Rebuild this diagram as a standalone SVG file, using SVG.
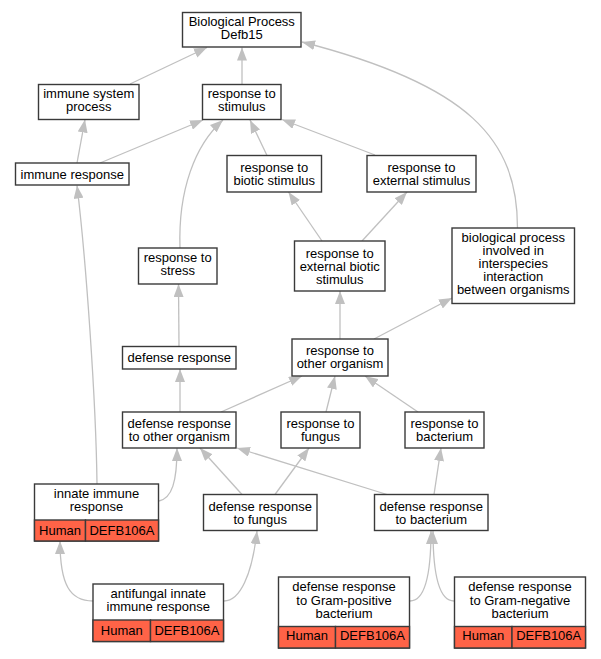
<svg xmlns="http://www.w3.org/2000/svg" width="601" height="659" viewBox="0 0 601 659">
<defs>
<marker id="ah" viewBox="0 0 13 10" refX="13" refY="5" markerWidth="13" markerHeight="10" markerUnits="userSpaceOnUse" orient="auto">
<path d="M0,0 L13,5 L0,10 z" fill="#c0c0c0"/>
</marker>
</defs>
<style>
.n rect{fill:#ffffff;stroke:#3a3a3a;stroke-width:1.4}
.n rect.c{fill:#ff6347}
.n line{stroke:#3a3a3a;stroke-width:1.4}
text{font-family:"Liberation Sans",Arial,sans-serif;font-size:13px;fill:#000;text-anchor:middle}
#edges path{fill:none;stroke:#c0c0c0;stroke-width:1.3;marker-end:url(#ah)}
</style>
<rect width="601" height="659" fill="#ffffff"/>
<g id="edges">
<path d="M130,84 L207,47.5"/>
<path d="M242,84 L242,47.5"/>
<path d="M517.5,228 C517.5,140 470,85 302,42"/>
<path d="M77,163 L85,119.5"/>
<path d="M100,163 L203,120"/>
<path d="M180,248 C178,190 195,145 223,120"/>
<path d="M267,155.5 L250,120"/>
<path d="M375,155 L282,119.5"/>
<path d="M322,241 L288.5,192"/>
<path d="M362,241 L407,192"/>
<path d="M340,339 L340,291"/>
<path d="M374,339 L452,298"/>
<path d="M179,346.5 L178.5,284"/>
<path d="M180,412 L180,369"/>
<path d="M221,412 L302,376"/>
<path d="M326,412 L335,376"/>
<path d="M418,412 L365,376"/>
<path d="M242,494.5 L200,448"/>
<path d="M275,494.5 L309,448"/>
<path d="M387,494.5 L237,448"/>
<path d="M434,494.5 L441,448"/>
<path d="M97,484 C96,400 86,260 77,185.5"/>
<path d="M159,501 C172,498 177,482 177,448"/>
<path d="M93,601 C70,601 60,585 60,541"/>
<path d="M224,601 C240,601 252,575 257,531"/>
<path d="M410,601 C426,601 431,570 431,531"/>
<path d="M454,601 C438,601 433,570 433,531"/>
</g>
<g id="bp" class="n"><rect x="182.5" y="12.5" width="118.5" height="34.5"/><text x="241.75" y="26">Biological Process</text><text x="241.75" y="39">Defb15</text></g>
<g id="isp" class="n"><rect x="38.5" y="84.5" width="100.5" height="35"/><text x="88.75" y="98">immune system</text><text x="88.75" y="111">process</text></g>
<g id="rts" class="n"><rect x="202.5" y="84.5" width="78.5" height="35"/><text x="241.75" y="98">response to</text><text x="241.75" y="111">stimulus</text></g>
<g id="ir" class="n"><rect x="15.5" y="163" width="113.5" height="22"/><text x="72.25" y="178.5">immune response</text></g>
<g id="rbs" class="n"><rect x="227" y="155.5" width="94.5" height="36.5"/><text x="274.25" y="171.5">response to</text><text x="274.25" y="184.5">biotic stimulus</text></g>
<g id="res" class="n"><rect x="367" y="155.5" width="109" height="36.5"/><text x="421.5" y="171.5">response to</text><text x="421.5" y="184.5">external stimulus</text></g>
<g id="rebs" class="n"><rect x="294.5" y="241" width="90.5" height="50"/><text x="339.75" y="257.5">response to</text><text x="339.75" y="270.5">external biotic</text><text x="339.75" y="283.5">stimulus</text></g>
<g id="bpi" class="n"><rect x="452" y="228" width="122.5" height="75.5"/><text x="513.25" y="242">biological process</text><text x="513.25" y="255">involved in</text><text x="513.25" y="268">interspecies</text><text x="513.25" y="281">interaction</text><text x="513.25" y="294">between organisms</text></g>
<g id="rstress" class="n"><rect x="138.5" y="248" width="78.5" height="36"/><text x="177.75" y="262">response to</text><text x="177.75" y="275">stress</text></g>
<g id="dr" class="n"><rect x="122.5" y="346.5" width="113.5" height="22.5"/><text x="179.25" y="362">defense response</text></g>
<g id="rto" class="n"><rect x="292" y="339" width="96" height="37"/><text x="340" y="355">response to</text><text x="340" y="368">other organism</text></g>
<g id="drto" class="n"><rect x="122.5" y="412" width="113.5" height="36"/><text x="179.25" y="428">defense response</text><text x="179.25" y="441">to other organism</text></g>
<g id="rf" class="n"><rect x="281" y="412" width="79" height="36"/><text x="320.5" y="428">response to</text><text x="320.5" y="441">fungus</text></g>
<g id="rb" class="n"><rect x="405" y="412" width="79" height="36"/><text x="444.5" y="428">response to</text><text x="444.5" y="441">bacterium</text></g>
<g id="drb" class="n"><rect x="374.5" y="494.5" width="113.5" height="36"/><text x="431.25" y="510.5">defense response</text><text x="431.25" y="523.5">to bacterium</text></g>
<g id="drf" class="n"><rect x="203.5" y="494.5" width="113.5" height="36"/><text x="260.25" y="510.5">defense response</text><text x="260.25" y="523.5">to fungus</text></g>
<g id="iir" class="n"><rect x="34.5" y="484" width="124" height="57"/><rect class="c" x="34.5" y="520" width="51" height="21"/><rect class="c" x="85.5" y="520" width="73" height="21"/><text x="96.5" y="498">innate immune</text><text x="96.5" y="511">response</text><text x="60" y="534.5">Human</text><text x="122" y="534.5">DEFB106A</text></g>
<g id="afi" class="n"><rect x="93" y="584" width="130.5" height="57.5"/><rect class="c" x="93" y="620" width="57.5" height="21.5"/><rect class="c" x="150.5" y="620" width="73" height="21.5"/><text x="158.25" y="598">antifungal innate</text><text x="158.25" y="611">immune response</text><text x="121.75" y="634.5">Human</text><text x="187" y="634.5">DEFB106A</text></g>
<g id="gp" class="n"><rect x="278.5" y="577" width="131" height="71"/><rect class="c" x="278.5" y="626.5" width="57" height="21.5"/><rect class="c" x="335.5" y="626.5" width="74" height="21.5"/><text x="344" y="591">defense response</text><text x="344" y="605">to Gram-positive</text><text x="344" y="618">bacterium</text><text x="307" y="640">Human</text><text x="372.5" y="640">DEFB106A</text></g>
<g id="gn" class="n"><rect x="454.5" y="577" width="131" height="71"/><rect class="c" x="454.5" y="626.5" width="57.5" height="21.5"/><rect class="c" x="512" y="626.5" width="73.5" height="21.5"/><text x="520" y="591">defense response</text><text x="520" y="605">to Gram-negative</text><text x="520" y="618">bacterium</text><text x="483.25" y="640">Human</text><text x="548.75" y="640">DEFB106A</text></g>
</svg>
